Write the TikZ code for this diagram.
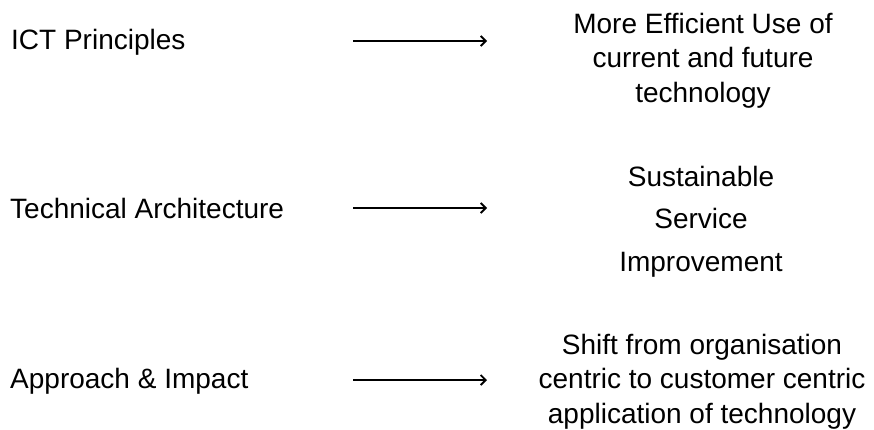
\documentclass[tikz,border=0pt]{standalone}
\usepackage{fontspec}
\setmainfont{Liberation Sans}
\usetikzlibrary{arrows.meta}
\begin{document}
\begin{tikzpicture}[x=1pt,y=-1pt,
  lbl/.style={anchor=base west,inner sep=0pt,font=\fontsize{28}{34.5}\selectfont},
  res/.style={align=center,anchor=base,inner sep=0pt,font=\fontsize{28}{34.5}\selectfont},
  resw/.style={align=center,anchor=base,inner sep=0pt,font=\fontsize{28}{42.5}\selectfont},
  arr/.style={line width=2.2pt,-{Straight Barb[length=5pt,width=10pt,line width=1.8pt]}}]
\useasboundingbox (0,0) rectangle (874,429);
\node[lbl] (l1) at (11,49) {ICT Principles};
\node[lbl] (l2) at (10,218) {Technical Architecture};
\node[lbl] (l3) at (10,388) {Approach \& Impact};
\node[res] (r1) at (703,102) {More Efficient Use of\\current and future\\technology};
\node[resw] (r2) at (701,271) {Sustainable\\Service\\Improvement};
\node[res] (r3) at (702,423) {Shift from organisation\\centric to customer centric\\application of technology};
\coordinate (a1s) at (353,41); \coordinate (a1e) at (487,41);
\coordinate (a2s) at (353,208); \coordinate (a2e) at (487,208);
\coordinate (a3s) at (353,380); \coordinate (a3e) at (487,380);
\draw[arr] (a1s) -- (a1e);
\draw[arr] (a2s) -- (a2e);
\draw[arr] (a3s) -- (a3e);
\end{tikzpicture}
\end{document}
